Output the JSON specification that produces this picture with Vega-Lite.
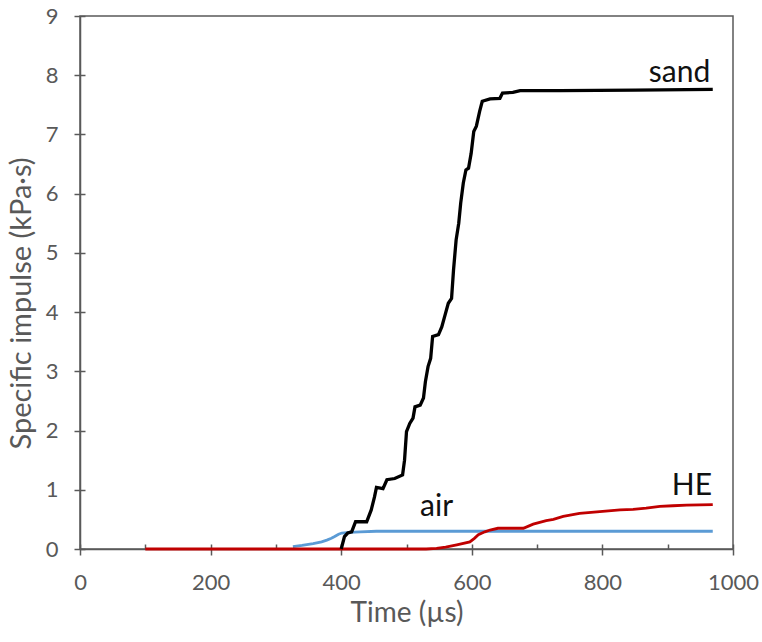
{
  "$schema": "https://vega.github.io/schema/vega-lite/v6.json",
  "width": 653,
  "height": 533,
  "autosize": {"type": "none"},
  "padding": {"left": 80, "top": 16, "right": 29, "bottom": 93},
  "background": "white",
  "config": {
    "font": "Lato",
    "view": {"stroke": "#595959", "strokeWidth": 1.5},
    "axis": {
      "grid": false,
      "domainColor": "#595959",
      "domainWidth": 1.5,
      "tickColor": "#595959",
      "tickWidth": 1.5,
      "labelColor": "#595959",
      "titleColor": "#595959",
      "labelFont": "Lato",
      "titleFont": "Lato",
      "labelFontSize": 22,
      "titleFontSize": 28,
      "titleFontWeight": "normal",
      "labelFlush": false
    }
  },
  "datasets": {
    "curves": [
      {"s": "air", "t": 326, "v": 0.04},
      {"s": "air", "t": 340, "v": 0.06},
      {"s": "air", "t": 357, "v": 0.09},
      {"s": "air", "t": 370, "v": 0.12},
      {"s": "air", "t": 378, "v": 0.15},
      {"s": "air", "t": 385, "v": 0.18},
      {"s": "air", "t": 390, "v": 0.21},
      {"s": "air", "t": 396, "v": 0.25},
      {"s": "air", "t": 401, "v": 0.27},
      {"s": "air", "t": 413, "v": 0.28},
      {"s": "air", "t": 429, "v": 0.29},
      {"s": "air", "t": 454, "v": 0.3},
      {"s": "air", "t": 600, "v": 0.3},
      {"s": "air", "t": 969, "v": 0.3},
      {"s": "HE", "t": 100, "v": 0},
      {"s": "HE", "t": 530, "v": 0},
      {"s": "HE", "t": 546, "v": 0.01},
      {"s": "HE", "t": 560, "v": 0.03},
      {"s": "HE", "t": 577, "v": 0.07},
      {"s": "HE", "t": 597, "v": 0.12},
      {"s": "HE", "t": 604, "v": 0.18},
      {"s": "HE", "t": 610, "v": 0.24},
      {"s": "HE", "t": 620, "v": 0.29},
      {"s": "HE", "t": 628, "v": 0.32},
      {"s": "HE", "t": 640, "v": 0.35},
      {"s": "HE", "t": 679, "v": 0.35},
      {"s": "HE", "t": 694, "v": 0.42},
      {"s": "HE", "t": 714, "v": 0.48},
      {"s": "HE", "t": 725, "v": 0.5},
      {"s": "HE", "t": 740, "v": 0.55},
      {"s": "HE", "t": 765, "v": 0.6},
      {"s": "HE", "t": 796, "v": 0.63},
      {"s": "HE", "t": 827, "v": 0.66},
      {"s": "HE", "t": 847, "v": 0.67},
      {"s": "HE", "t": 867, "v": 0.69},
      {"s": "HE", "t": 888, "v": 0.72},
      {"s": "HE", "t": 908, "v": 0.73},
      {"s": "HE", "t": 929, "v": 0.74},
      {"s": "HE", "t": 969, "v": 0.75},
      {"s": "sand", "t": 400, "v": 0},
      {"s": "sand", "t": 405, "v": 0.21},
      {"s": "sand", "t": 410, "v": 0.27},
      {"s": "sand", "t": 416, "v": 0.29},
      {"s": "sand", "t": 422, "v": 0.46},
      {"s": "sand", "t": 439, "v": 0.46},
      {"s": "sand", "t": 446, "v": 0.66},
      {"s": "sand", "t": 451, "v": 0.88},
      {"s": "sand", "t": 454, "v": 1.04},
      {"s": "sand", "t": 464, "v": 1.02},
      {"s": "sand", "t": 470, "v": 1.17},
      {"s": "sand", "t": 482, "v": 1.19},
      {"s": "sand", "t": 494, "v": 1.25},
      {"s": "sand", "t": 497, "v": 1.5},
      {"s": "sand", "t": 500, "v": 1.98},
      {"s": "sand", "t": 505, "v": 2.12},
      {"s": "sand", "t": 510, "v": 2.21},
      {"s": "sand", "t": 513, "v": 2.4},
      {"s": "sand", "t": 521, "v": 2.43},
      {"s": "sand", "t": 526, "v": 2.55},
      {"s": "sand", "t": 529, "v": 2.83},
      {"s": "sand", "t": 533, "v": 3.08},
      {"s": "sand", "t": 537, "v": 3.22},
      {"s": "sand", "t": 540, "v": 3.59},
      {"s": "sand", "t": 549, "v": 3.62},
      {"s": "sand", "t": 554, "v": 3.75},
      {"s": "sand", "t": 559, "v": 3.95},
      {"s": "sand", "t": 564, "v": 4.15},
      {"s": "sand", "t": 569, "v": 4.23},
      {"s": "sand", "t": 572, "v": 4.71},
      {"s": "sand", "t": 576, "v": 5.22},
      {"s": "sand", "t": 580, "v": 5.5},
      {"s": "sand", "t": 583, "v": 5.84},
      {"s": "sand", "t": 587, "v": 6.18},
      {"s": "sand", "t": 591, "v": 6.4},
      {"s": "sand", "t": 595, "v": 6.43},
      {"s": "sand", "t": 599, "v": 6.68},
      {"s": "sand", "t": 603, "v": 7.05},
      {"s": "sand", "t": 607, "v": 7.14},
      {"s": "sand", "t": 612, "v": 7.39},
      {"s": "sand", "t": 616, "v": 7.56},
      {"s": "sand", "t": 628, "v": 7.6},
      {"s": "sand", "t": 643, "v": 7.61},
      {"s": "sand", "t": 647, "v": 7.7},
      {"s": "sand", "t": 663, "v": 7.71},
      {"s": "sand", "t": 674, "v": 7.74},
      {"s": "sand", "t": 735, "v": 7.74},
      {"s": "sand", "t": 850, "v": 7.75},
      {"s": "sand", "t": 969, "v": 7.76}
    ],
    "labels": [
      {"label": "sand", "t": 918, "v": 7.89},
      {"label": "HE", "t": 937, "v": 0.91},
      {"label": "air", "t": 546, "v": 0.55}
    ]
  },
  "layer": [
    {
      "encoding": {
        "x": {
          "field": "t", "type": "quantitative",
          "scale": {"domain": [0, 1000], "nice": false, "zero": false},
          "axis": {
            "orient": "bottom",
            "values": [0, 200, 400, 600, 800, 1000],
            "format": "d",
            "tickSize": 6,
            "labelPadding": 17,
            "title": "Time (µs)",
            "titleBaseline": "alphabetic",
            "titleY": 72
          }
        },
        "y": {
          "field": "v", "type": "quantitative",
          "scale": {"domain": [0, 9], "nice": false},
          "axis": {
            "orient": "left",
            "values": [0, 1, 2, 3, 4, 5, 6, 7, 8, 9],
            "tickSize": 6,
            "labelPadding": 16,
            "title": "Specific impulse (kPa·s)",
            "titleFontSize": 29,
            "titleBaseline": "alphabetic",
            "titleAlign": "center",
            "titleAngle": 270,
            "titleX": -50,
            "titleY": 287
          }
        }
      },
      "layer": [
        {
          "data": {"name": "curves"},
          "transform": [{"filter": "datum.s === 'air'"}],
          "mark": {"type": "line", "color": "#5B9BD5", "strokeWidth": 2.8},
          "encoding": {}
        },
        {
          "data": {"name": "curves"},
          "transform": [{"filter": "datum.s === 'HE'"}],
          "mark": {"type": "line", "color": "#C00000", "strokeWidth": 2.8},
          "encoding": {}
        },
        {
          "data": {"name": "curves"},
          "transform": [{"filter": "datum.s === 'sand'"}],
          "mark": {"type": "line", "color": "#000000", "strokeWidth": 3.3},
          "encoding": {}
        }
      ]
    },
    {
      "data": {"name": "labels"},
      "mark": {"type": "text", "font": "Lato", "fontSize": 30, "color": "#111111", "align": "center", "baseline": "alphabetic"},
      "encoding": {
        "x": {
          "field": "t", "type": "quantitative",
          "axis": {
            "orient": "bottom",
            "values": [0, 100, 200, 300, 400, 500, 600, 700, 800, 900, 1000],
            "tickSize": 5,
            "offset": -5,
            "labels": false,
            "domain": false,
            "title": null
          }
        },
        "y": {
          "field": "v", "type": "quantitative",
          "axis": {
            "orient": "left",
            "values": [0, 1, 2, 3, 4, 5, 6, 7, 8, 9],
            "tickSize": 5,
            "offset": -5,
            "labels": false,
            "domain": false,
            "title": null
          }
        },
        "text": {"field": "label"}
      }
    }
  ],
  "resolve": {"axis": {"x": "independent", "y": "independent"}}
}
